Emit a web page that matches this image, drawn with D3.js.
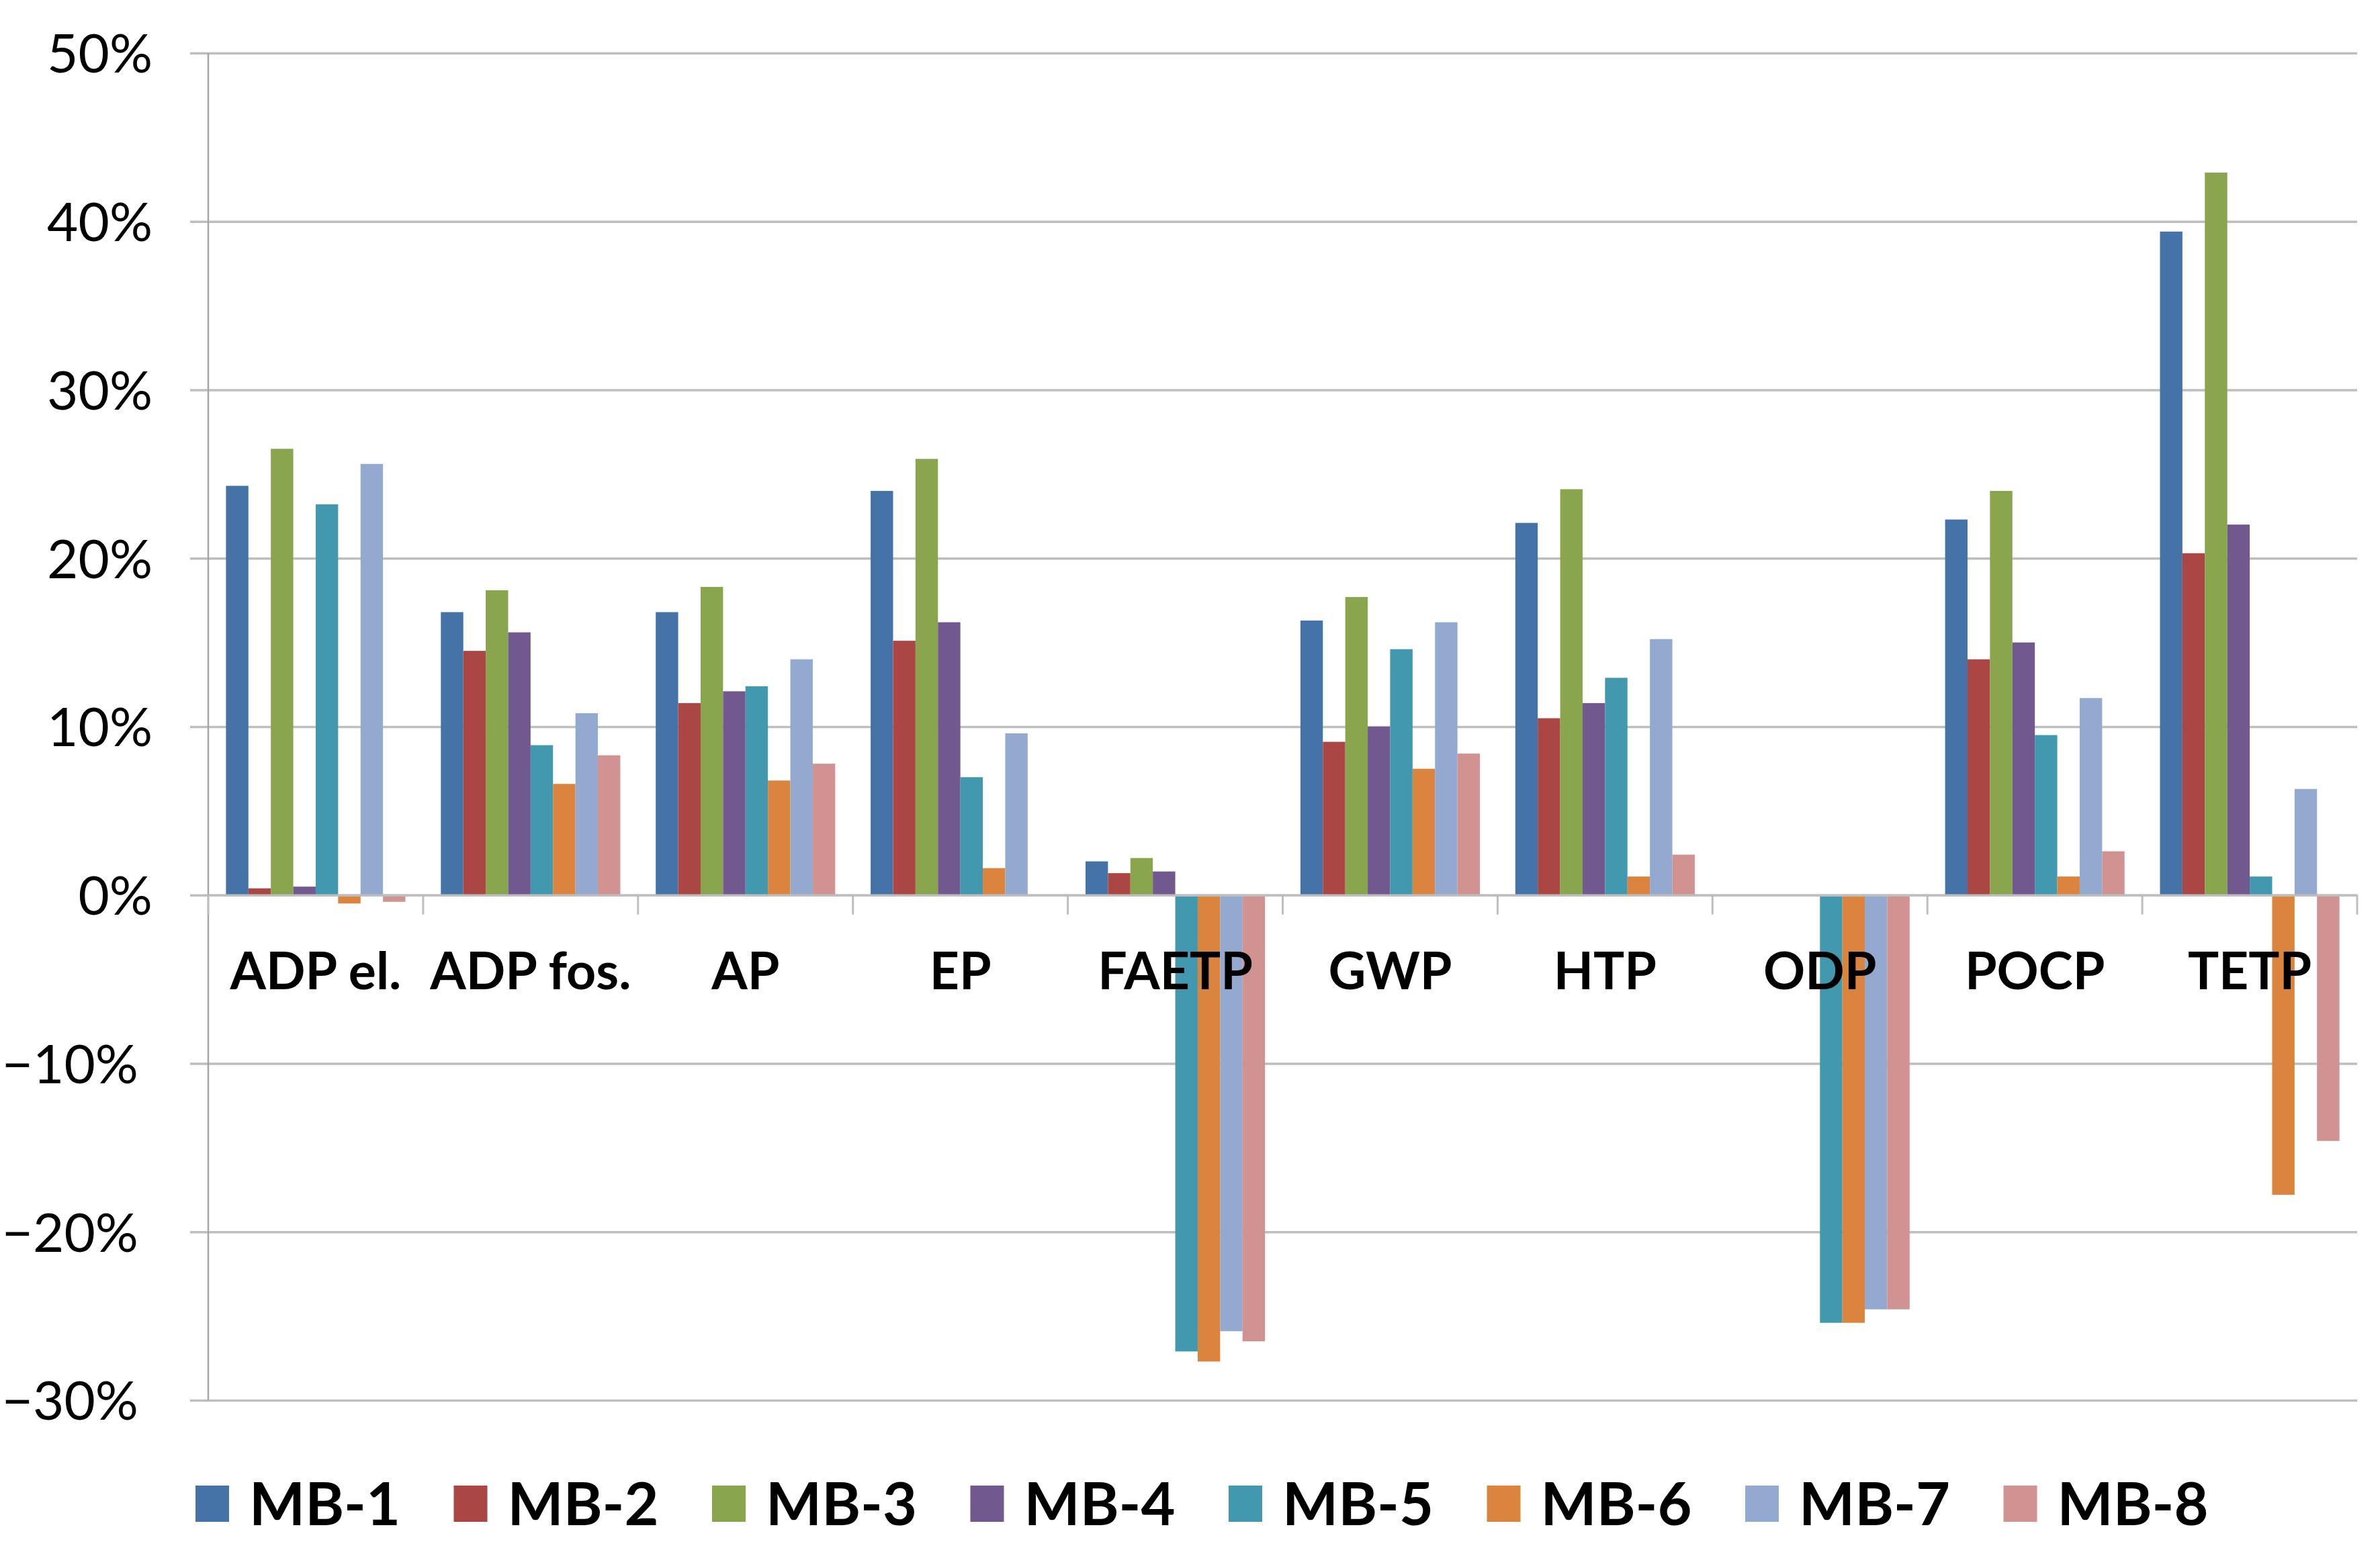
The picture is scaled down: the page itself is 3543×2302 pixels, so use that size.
<!DOCTYPE html>
<html>
<head>
<meta charset="utf-8">
<script src="https://cdn.jsdelivr.net/npm/d3@7"></script>
<style>
  body { margin: 0; background: #fff; }
  text { font-family: Lato, "Open Sans", sans-serif; fill: #000; }
</style>
</head>
<body>
<div id="plot"></div>
<script>
// Categories and series
const categories = ["ADP el.", "ADP fos.", "AP", "EP", "FAETP", "GWP", "HTP", "ODP", "POCP", "TETP"];
const seriesNames = ["MB-1", "MB-2", "MB-3", "MB-4", "MB-5", "MB-6", "MB-7", "MB-8"];
const seriesColors = ["#4572A7", "#AA4643", "#89A54E", "#71588F", "#4198AF", "#DB843D", "#93A9CF", "#D19392"];

// Values per series (share, one per category)
const mb1 = [0.243, 0.168, 0.168, 0.240, 0.020, 0.163, 0.221, 0, 0.223, 0.394];
const mb2 = [0.004, 0.145, 0.114, 0.151, 0.013, 0.091, 0.105, 0, 0.140, 0.203];
const mb3 = [0.265, 0.181, 0.183, 0.259, 0.022, 0.177, 0.241, 0, 0.240, 0.429];
const mb4 = [0.005, 0.156, 0.121, 0.162, 0.014, 0.100, 0.114, 0, 0.150, 0.220];
const mb5 = [0.232, 0.089, 0.124, 0.070, -0.271, 0.146, 0.129, -0.254, 0.095, 0.011];
const mb6 = [-0.005, 0.066, 0.068, 0.016, -0.277, 0.075, 0.011, -0.254, 0.011, -0.178];
const mb7 = [0.256, 0.108, 0.140, 0.096, -0.259, 0.162, 0.152, -0.246, 0.117, 0.063];
const mb8 = [-0.004, 0.083, 0.078, 0, -0.265, 0.084, 0.024, -0.246, 0.026, -0.146];
const seriesValues = [mb1, mb2, mb3, mb4, mb5, mb6, mb7, mb8];

// Y ticks
const yTicks = [0.5, 0.4, 0.3, 0.2, 0.1, 0, -0.1, -0.2, -0.3];

const W = 3543, H = 2302;
const plot = { left: 310, right: 3509, top: 79, bottom: 2085 };

const svg = d3.select("#plot")
  .append("svg")
  .attr("width", W)
  .attr("height", H);

svg.append("rect").attr("width", W).attr("height", H).attr("fill", "#fff");

const x0 = d3.scaleBand()
  .domain(categories)
  .range([plot.left, plot.right])
  .padding(0);

const x1 = d3.scaleBand()
  .domain(seriesNames)
  .range([0, x0.bandwidth()])
  .paddingInner(0)
  .paddingOuter(0.79);

const y = d3.scaleLinear()
  .domain([-0.3, 0.5])
  .range([plot.bottom, plot.top]);

const fmt = v => {
  const p = Math.round(v * 100);
  return p < 0 ? "\u2212" + Math.abs(p) + "%" : p + "%";
};

// Gridlines + y axis labels
const yAxis = svg.append("g")
  .attr("transform", `translate(${plot.left},0)`)
  .call(d3.axisLeft(y).tickValues(yTicks).tickFormat(fmt).tickSize(27).tickPadding(56));

yAxis.select(".domain").remove();
yAxis.selectAll(".tick line")
  .attr("x1", -27)
  .attr("x2", plot.right - plot.left)
  .attr("stroke", "#BEBEBE")
  .attr("stroke-width", 3.5);
yAxis.selectAll(".tick text")
  .attr("x", d => d < 0 ? -104 : -83)
  .attr("dy", "0.36em")
  .style("font-size", "80px")
  .style("font-family", "Lato, sans-serif");

// Vertical axis line
svg.append("line")
  .attr("x1", plot.left).attr("x2", plot.left)
  .attr("y1", plot.top).attr("y2", plot.bottom)
  .attr("stroke", "#A6A6A6")
  .attr("stroke-width", 2.5);

// Bars
const groups = svg.selectAll(".series")
  .data(seriesNames)
  .enter()
  .append("g")
  .attr("class", "series")
  .attr("fill", (d, i) => seriesColors[i]);

groups.selectAll("rect")
  .data((s, i) => seriesValues[i].map((v, j) => ({ s, v, c: categories[j] })))
  .enter()
  .append("rect")
  .attr("x", d => x0(d.c) + x1(d.s))
  .attr("y", d => Math.min(y(d.v), y(0)))
  .attr("width", x1.bandwidth())
  .attr("height", d => Math.abs(y(d.v) - y(0)));

// Horizontal axis at 0
const xAxis = svg.append("g")
  .attr("transform", `translate(0,${y(0)})`)
  .call(d3.axisBottom(x0).tickSize(0));

xAxis.select(".domain")
  .attr("stroke", "#BEBEBE")
  .attr("stroke-width", 3.5);
xAxis.selectAll(".tick text")
  .attr("y", 140)
  .attr("dy", 0)
  .style("font-size", "77px")
  .style("font-weight", "bold")
  .style("font-family", "Lato, sans-serif");

// Category boundary tick marks
svg.append("g")
  .selectAll("line")
  .data(categories.map(c => x0(c)).concat([plot.right]))
  .enter()
  .append("line")
  .attr("x1", d => d).attr("x2", d => d)
  .attr("y1", y(0)).attr("y2", y(0) + 29)
  .attr("stroke", "#BEBEBE")
  .attr("stroke-width", 3);

// Legend
const legend = svg.append("g")
  .attr("transform", "translate(291,2212)");

const item = legend.selectAll("g")
  .data(seriesNames)
  .enter()
  .append("g")
  .attr("transform", (d, i) => `translate(${i * 384.5},0)`);

item.append("rect")
  .attr("width", 50)
  .attr("height", 54)
  .attr("fill", (d, i) => seriesColors[i]);

item.append("text")
  .attr("x", 80)
  .attr("y", 59)
  .style("font-size", "88px")
  .style("font-weight", "bold")
  .text(d => d);
</script>
</body>
</html>
